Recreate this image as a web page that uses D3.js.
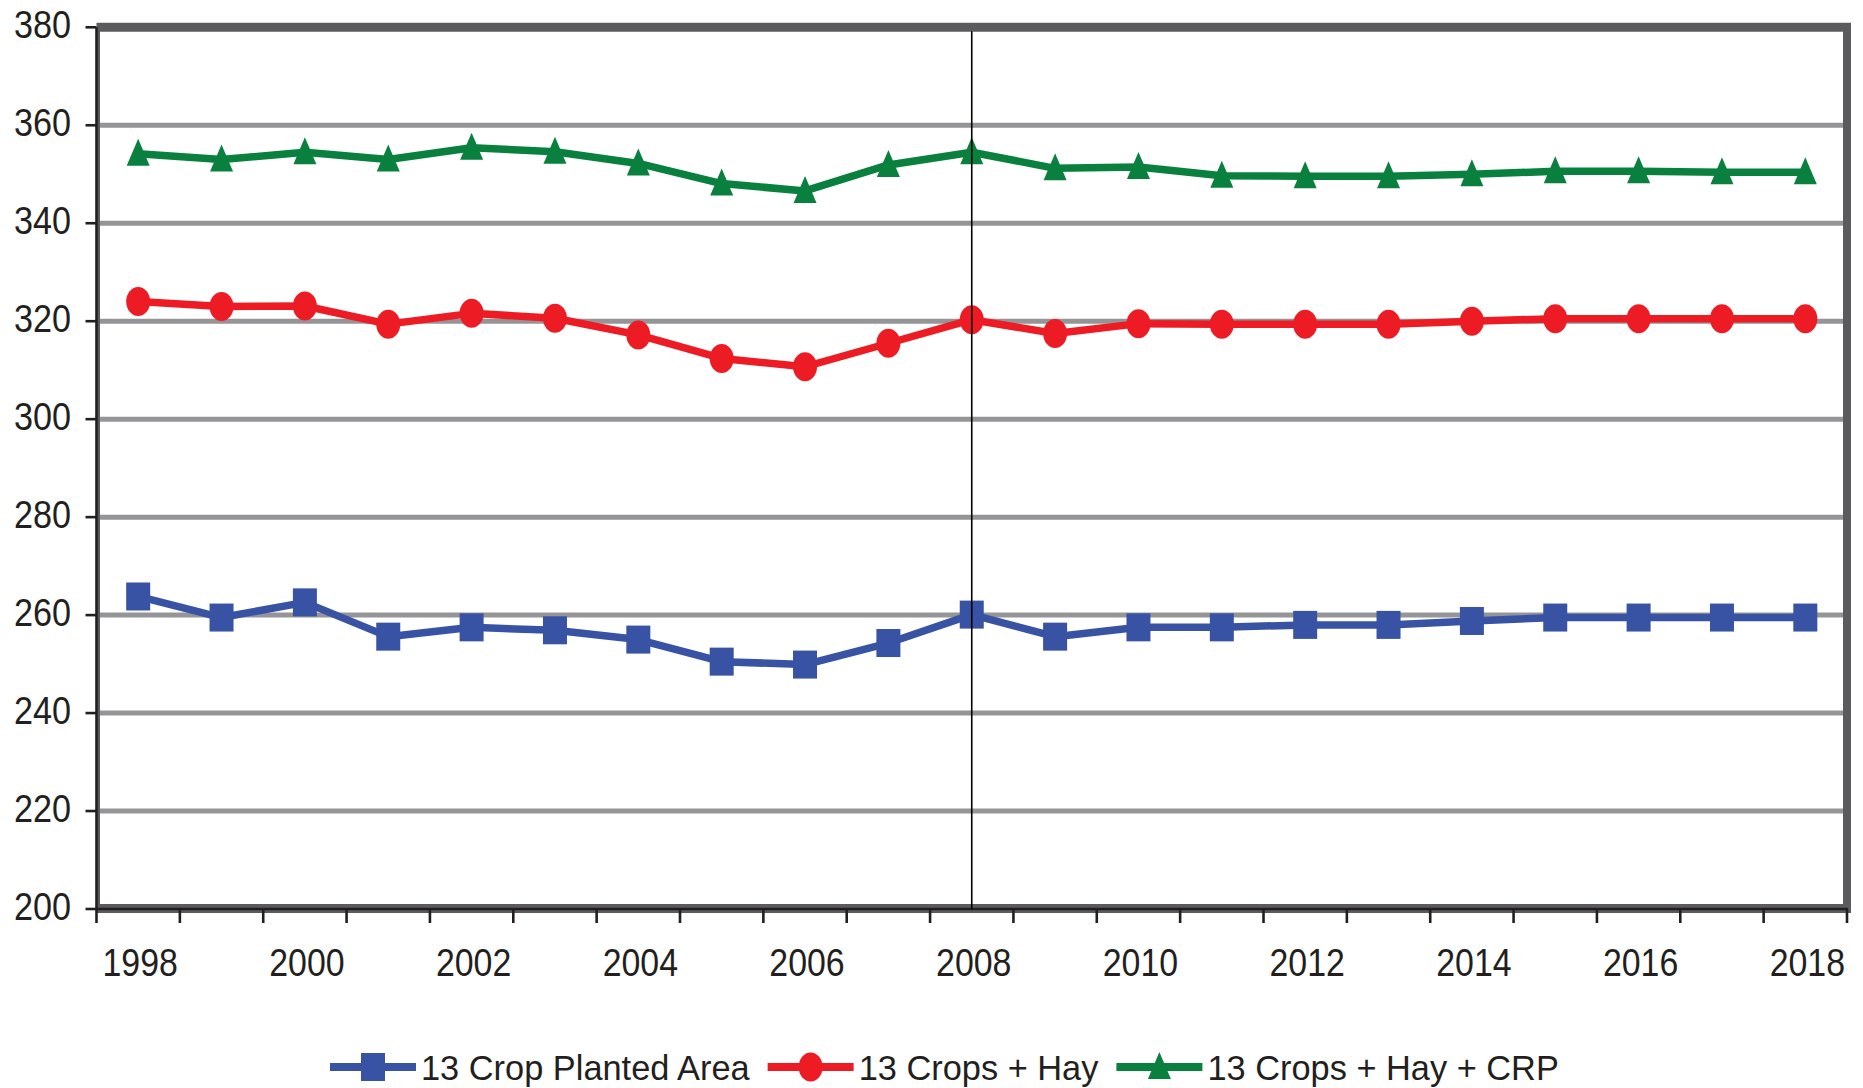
<!DOCTYPE html>
<html>
<head>
<meta charset="utf-8">
<script src="https://cdn.jsdelivr.net/npm/d3@7"></script>
<style>
  body { margin: 0; background: #fff; }
  svg { display: block; font-family: "Liberation Sans", Arial, sans-serif; }
</style>
</head>
<body>
<div id="chart"></div>
<script>
let years = [1998, 1999, 2000, 2001, 2002, 2003, 2004, 2005, 2006, 2007, 2008,
    2009, 2010, 2011, 2012, 2013, 2014, 2015, 2016, 2017, 2018];
let planted = [263.8, 259.5, 262.6, 255.6, 257.5, 256.9, 255.0, 250.5, 249.9, 254.3, 260.1,
    255.6, 257.5, 257.5, 258.0, 258.0, 258.8, 259.5, 259.5, 259.5, 259.5];
let cropsHay = [324.0, 323.0, 323.1, 319.4, 321.6, 320.6, 317.2, 312.4, 310.7, 315.5, 320.3,
    317.5, 319.5, 319.4, 319.4, 319.4, 320.0, 320.5, 320.5, 320.5, 320.5];
let cropsHayCrp = [354.2, 353.0, 354.5, 353.0, 355.4, 354.6, 352.2, 348.1, 346.6, 351.9, 354.5,
    351.2, 351.5, 349.7, 349.6, 349.6, 350.0, 350.6, 350.6, 350.4, 350.4];
let yTicks = [200, 220, 240, 260, 280, 300, 320, 340, 360, 380];
let xLabels = [1998, 2000, 2002, 2004, 2006, 2008, 2010, 2012, 2014, 2016, 2018];
let markYear = 2008;
let seriesNames = ['13 Crop Planted Area', '13 Crops + Hay', '13 Crops + Hay + CRP'];

let svgWidth = 1863;
let svgHeight = 1088;
let plotLeft = 96.5, plotRight = 1847, plotTop = 27.3, plotBottom = 909;

let svg = d3.select('#chart').append('svg')
    .attr('width', svgWidth)
    .attr('height', svgHeight);

let x = d3.scaleBand().domain(years).range([plotLeft, plotRight]).padding(0);
let y = d3.scaleLinear().domain([200, 380]).range([plotBottom, plotTop]);
let cx = function (d) { return x(d) + x.bandwidth() / 2; };

// gridlines
svg.append('g').selectAll('line')
    .data(yTicks.filter(function (d) { return d > 200 && d < 380; }))
    .enter().append('line')
    .attr('x1', plotLeft + 3).attr('x2', plotRight - 3)
    .attr('y1', function (d) { return y(d); })
    .attr('y2', function (d) { return y(d); })
    .attr('stroke', '#959598')
    .attr('stroke-width', 5);

// frame
let frame = svg.append('g').attr('stroke', '#5b5b5e');
frame.append('line').attr('x1', plotLeft).attr('x2', plotRight + 4).attr('y1', plotTop).attr('y2', plotTop).attr('stroke-width', 9);
frame.append('line').attr('x1', plotRight).attr('x2', plotRight).attr('y1', plotTop).attr('y2', plotBottom + 4).attr('stroke-width', 8);
frame.append('line').attr('x1', plotLeft).attr('x2', plotRight + 4).attr('y1', plotBottom - 0.5).attr('y2', plotBottom - 0.5).attr('stroke-width', 9);
frame.append('line').attr('x1', plotLeft + 2).attr('x2', plotLeft + 2).attr('y1', plotTop).attr('y2', plotBottom).attr('stroke-width', 3);

// axes
let axes = svg.append('g').attr('stroke', '#231f20').attr('stroke-width', 2.6);
axes.append('line').attr('x1', plotLeft).attr('x2', plotLeft).attr('y1', plotTop).attr('y2', plotBottom);
axes.append('line').attr('x1', plotLeft).attr('x2', plotRight + 1).attr('y1', plotBottom).attr('y2', plotBottom);
axes.selectAll('.ytick').data(yTicks).enter().append('line')
    .attr('x1', plotLeft - 11).attr('x2', plotLeft)
    .attr('y1', function (d) { return y(d); })
    .attr('y2', function (d) { return y(d); });
let bounds = years.map(function (d) { return x(d); }).concat([plotRight]);
axes.selectAll('.xtick').data(bounds).enter().append('line')
    .attr('x1', function (d) { return d; })
    .attr('x2', function (d) { return d; })
    .attr('y1', plotBottom).attr('y2', plotBottom + 14);

// tick labels (slightly condensed)
svg.append('g').selectAll('text').data(yTicks).enter().append('text')
    .attr('transform', function (d) { return 'translate(71,' + (y(d) + 10.5) + ') scale(0.9,1)'; })
    .attr('text-anchor', 'end')
    .attr('font-size', 38)
    .attr('fill', '#231f20')
    .text(function (d) { return d; });
svg.append('g').selectAll('text').data(xLabels).enter().append('text')
    .attr('transform', function (d) { return 'translate(' + (cx(d) + 2) + ',976) scale(0.88,1)'; })
    .attr('text-anchor', 'middle')
    .attr('font-size', 38.5)
    .attr('fill', '#231f20')
    .text(function (d) { return d; });

let lineFunction = d3.line()
    .x(function (d) { return cx(d.year); })
    .y(function (d) { return y(d.value); });

let series = [
    { name: seriesNames[0], values: planted, color: '#3853a4', shape: 'square' },
    { name: seriesNames[1], values: cropsHay, color: '#ed1c24', shape: 'circle' },
    { name: seriesNames[2], values: cropsHayCrp, color: '#0a803f', shape: 'triangle' }
];

function drawMarker(g, shape, color) {
    if (shape == 'square') {
        g.append('rect').attr('x', -12).attr('y', -14).attr('width', 24).attr('height', 28).attr('fill', color);
    } else if (shape == 'circle') {
        g.append('ellipse').attr('rx', 12).attr('ry', 14.5).attr('fill', color);
    } else {
        g.append('path').attr('d', 'M0,-15L11.5,12L-11.5,12Z').attr('fill', color);
    }
}

series.forEach(function (s) {
    let pts = years.map(function (yr, i) { return { year: yr, value: s.values[i] }; });
    let group = svg.append('g');
    group.append('path')
        .attr('d', lineFunction(pts))
        .attr('fill', 'none')
        .attr('stroke', s.color)
        .attr('stroke-width', 7.5)
        .attr('stroke-linejoin', 'round');
    pts.forEach(function (p) {
        let m = group.append('g').attr('transform', 'translate(' + cx(p.year) + ',' + y(p.value) + ')');
        drawMarker(m, s.shape, s.color);
    });
});

// vertical marker line
svg.append('line')
    .attr('x1', cx(markYear)).attr('x2', cx(markYear))
    .attr('y1', plotTop + 4).attr('y2', plotBottom)
    .attr('stroke', '#000')
    .attr('stroke-width', 1.6);

// legend
let legendX = 330;
let legendY = 1067;
series.forEach(function (s) {
    let g = svg.append('g').attr('transform', 'translate(' + legendX + ',' + legendY + ')');
    g.append('line').attr('x1', 0).attr('x2', 86).attr('y1', 0).attr('y2', 0)
        .attr('stroke', s.color).attr('stroke-width', 8);
    let m = g.append('g').attr('transform', 'translate(43,0)');
    drawMarker(m, s.shape, s.color);
    let t = g.append('text')
        .attr('transform', 'translate(91,12.5) scale(0.955,1)')
        .attr('font-size', 36)
        .attr('fill', '#231f20')
        .text(s.name);
    let w = t.node().getComputedTextLength() * 0.955;
    legendX += 91 + w + 18;
});
</script>
</body>
</html>
